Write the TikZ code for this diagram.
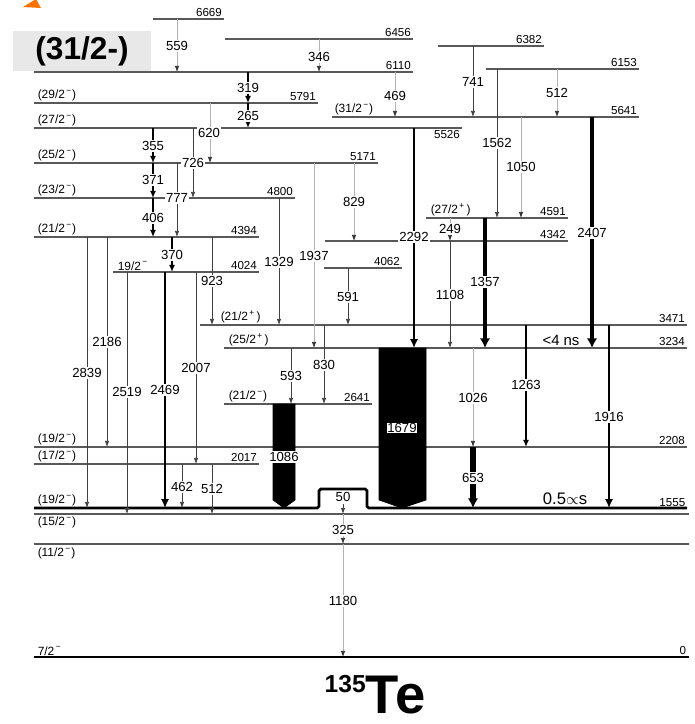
\documentclass[tikz,border=0pt]{standalone}
\usepackage{fontspec}
\setmainfont{Liberation Sans}
\usetikzlibrary{arrows.meta}

\newcommand{\mneg}{\textsuperscript{\,−}}
\newcommand{\mpos}{\textsuperscript{\,+\,}}

\tikzset{
  lvl/.style={draw=black!65, line width=0.8pt},
  gnd/.style={draw=black, line width=1.6pt},
  tr/.style={draw=black!75, line width=0.45pt, -{Latex[length=3.5pt,width=2.6pt]}},
  trl/.style={draw=black!30, line width=0.45pt, -{Latex[length=3.5pt,width=2.6pt,color=black!80]}},
  trm/.style={draw=black, line width=1pt, -{Latex[length=4pt,width=3.4pt]}},
  trt/.style={draw=black, line width=1.6pt, -{Latex[length=5pt,width=4.6pt]}},
  trx/.style={draw=black, line width=2.8pt, -{Latex[length=5.5pt,width=6pt]}},
  fat/.style={fill=black, draw=black, line width=0.4pt},
  gl/.style={fill=white, inner sep=0.6pt, font=\fontsize{7.5}{8}\selectfont},
  el/.style={anchor=south east, inner sep=0.8pt, font=\fontsize{6.6}{7}\selectfont},
  sl/.style={anchor=south west, inner sep=0.8pt, font=\fontsize{6.8}{7}\selectfont}
}

\begin{document}
\begin{tikzpicture}[x=0.02cm, y=-0.02cm]
\useasboundingbox (0,0) rectangle (695,724);

% corner mark and boxed spin
\fill[orange!90!red] (23,7) -- (41,8) -- (36,-1) -- cycle;
\node[fill=black!9, minimum width=2.76cm, minimum height=0.8cm, inner sep=0pt,
      font=\bfseries\fontsize{18}{20}\selectfont] (jbox) at (82,51) {(31/2-)};

% levels
\draw[lvl] (153,19) -- (224,19) node[el] (e6669) {6669};
\draw[lvl] (225,39) -- (413,39) node[el] (e6456) {6456};
\draw[lvl] (151,72) -- (413,72) node[el] (e6110) {6110};
\draw[lvl] (34,72) -- (151,72);
\draw[lvl] (438,46) -- (544,46) node[el] (e6382) {6382};
\draw[lvl] (486,69) -- (639,69) node[el] (e6153) {6153};
\draw[lvl] (34,103) -- (318,103) node[el] (e5791) {5791};
\draw[lvl] (332,117) -- (639,117) node[el] (e5641) {5641};
\draw[lvl] (34,128) -- (462,128) node[el, anchor=north east] (e5526) {5526};
\draw[lvl] (34,163) -- (378,163) node[el] (e5171) {5171};
\draw[lvl] (34,198) -- (295,198) node[el] (e4800) {4800};
\draw[lvl] (426,218) -- (568,218) node[el] (e4591) {4591};
\draw[lvl] (34,237) -- (259,237) node[el] (e4394) {4394};
\draw[lvl] (325,241) -- (568,241) node[el] (e4342) {4342};
\draw[lvl] (324,268) -- (402,268) node[el] (e4062) {4062};
\draw[lvl] (113,272) -- (259,272) node[el] (e4024) {4024};
\draw[lvl] (200,325) -- (687,325) node[el] (e3471) {3471};
\draw[lvl] (224,348) -- (687,348) node[el] (e3234) {3234};
\draw[lvl] (224,404) -- (372,404) node[el] (e2641) {2641};
\draw[lvl] (34,447) -- (687,447) node[el] (e2208) {2208};
\draw[lvl] (34,464) -- (259,464) node[el] (e2017) {2017};
\draw[lvl] (34,514) -- (689,514);
\draw[lvl] (34,544) -- (689,544);
\draw[gnd, rounded corners=1pt] (34,508) -- (319,508) -- (319,489) -- (367,489) -- (367,508) -- (687,508);
\node[el] (e1555) at (687,508) {1555};
\draw[gnd] (34,657) -- (689,657) node[el] (e0) {0};

% spins
\node[sl] (s5791) at (36,103) {(29/2\mneg)};
\node[sl] (s5526) at (36,128) {(27/2\mneg)};
\node[sl] (s5641) at (333,117) {(31/2\mneg)};
\node[sl] (s5171) at (36,163) {(25/2\mneg)};
\node[sl] (s4800) at (36,198) {(23/2\mneg)};
\node[sl] (s4591) at (429,218) {(27/2\mpos)};
\node[sl] (s4394) at (36,237) {(21/2\mneg)};
\node[sl] (s4024) at (116,272) {19/2\mneg};
\node[sl] (s3471) at (219,325) {(21/2\mpos)};
\node[sl] (s3234) at (227,348) {(25/2\mpos)};
\node[sl] (s2641) at (227,404) {(21/2\mneg)};
\node[sl] (s2208) at (36,447) {(19/2\mneg)};
\node[sl] (s2017) at (36,464) {(17/2\mneg)};
\node[sl] (s1555) at (36,508) {(19/2\mneg)};
\node[sl, anchor=north west] (s1505) at (36,515) {(15/2\mneg)};
\node[sl, anchor=north west] (s1180) at (36,546) {(11/2\mneg)};
\node[sl] (s0) at (36,657) {7/2\mneg};

% gamma rays
\draw[trl] (177,19) -- (177,72);
\draw[trl] (319,39) -- (319,72);
\draw[trm] (248,72) -- (248,103);
\draw[trm] (248,103) -- (248,128);
\draw[trl] (395,72) -- (395,117);
\draw[tr] (473,46) -- (473,117);
\draw[trl] (557,69) -- (557,117);
\draw[tr] (497,69) -- (497,218);
\draw[trl] (521,117) -- (521,218);
\draw[trx, line width=2.3pt] (592,117) -- (592,348);
\draw[trt, line width=1.3pt] (414,128) -- (414,348);
\draw[trl] (210,103) -- (210,163);
\draw[trm, line width=0.9pt] (153,128) -- (153,163);
\draw[trm, line width=0.9pt] (153,163) -- (153,198);
\draw[trm, line width=0.9pt] (153,198) -- (153,237);
\draw[tr] (193,128) -- (193,198);
\draw[tr] (177,163) -- (177,237);
\draw[trm] (172,237) -- (172,272);
\draw[trl] (354,163) -- (354,241);
\draw[trl] (450,218) -- (450,241);
\draw[tr] (450,241) -- (450,348);
\draw[trx] (485,218) -- (485,348);
\draw[trl] (314,163) -- (314,348);
\draw[tr] (279,198) -- (279,325);
\draw[tr] (212,237) -- (212,325);
\draw[tr] (348,268) -- (348,325);
\draw[tr] (107,237) -- (107,447);
\draw[tr] (87,237) -- (87,508);
\draw[tr] (127,272) -- (127,514);
\draw[trt] (165,272) -- (165,508);
\draw[tr] (196,272) -- (196,464);
\draw[tr] (182,464) -- (182,508);
\draw[tr] (212,464) -- (212,514);
\draw[tr] (291,348) -- (291,404);
\draw[tr] (324,325) -- (324,404);
\draw[trl] (473,348) -- (473,447);
\draw[trx, line width=3.4pt] (473,447) -- (473,508);
\draw[trm] (526,325) -- (526,447);
\draw[trt] (609,325) -- (609,508);
\draw[tr] (343,504) -- (343,514);
\draw[trl] (343,514) -- (343,544);
\draw[trl] (343,544) -- (343,657);

% wide arrows
\draw[fat] (273,404) -- (295,404) -- (295,500) -- (284,508) -- (273,500) -- cycle;
\draw[fat] (379,348) -- (426,348) -- (426,500) -- (402,508) -- (379,500) -- cycle;

% energies of the gamma rays
\node[gl] (g559) at (177,46) {559};
\node[gl] (g346) at (319,57) {346};
\node[gl] (g319) at (248,88) {319};
\node[gl] (g265) at (248,116) {265};
\node[gl] (g469) at (395,96) {469};
\node[gl] (g741) at (473,82) {741};
\node[gl] (g512a) at (557,93) {512};
\node[gl] (g1562) at (497,143) {1562};
\node[gl] (g1050) at (521,167) {1050};
\node[gl] (g2407) at (592,233) {2407};
\node[gl] (g2292) at (414,237) {2292};
\node[gl] (g620) at (209,133) {620};
\node[gl] (g355) at (153,146) {355};
\node[gl] (g371) at (153,180) {371};
\node[gl] (g406) at (153,218) {406};
\node[gl] (g726) at (193,163) {726};
\node[gl] (g777) at (177,198) {777};
\node[gl] (g370) at (172,255) {370};
\node[gl] (g829) at (354,202) {829};
\node[gl] (g249) at (450,229) {249};
\node[gl] (g1108) at (450,295) {1108};
\node[gl] (g1357) at (485,282) {1357};
\node[gl] (g1937) at (314,256) {1937};
\node[gl] (g1329) at (279,262) {1329};
\node[gl] (g923) at (212,281) {923};
\node[gl] (g591) at (348,297) {591};
\node[gl] (g2186) at (107,342) {2186};
\node[gl] (g2839) at (87,373) {2839};
\node[gl] (g2519) at (127,392) {2519};
\node[gl] (g2469) at (165,390) {2469};
\node[gl] (g2007) at (196,368) {2007};
\node[gl] (g462) at (182,487) {462};
\node[gl] (g512b) at (212,489) {512};
\node[gl] (g593) at (291,376) {593};
\node[gl] (g830) at (324,365) {830};
\node[gl] (g1086) at (284,457) {1086};
\node[gl, draw=black, line width=0.4pt] (g1679) at (402,428) {1679};
\node[gl] (g1026) at (473,398) {1026};
\node[gl] (g653) at (473,478) {653};
\node[gl] (g1263) at (526,385) {1263};
\node[gl] (g1916) at (609,417) {1916};
\node[gl, fill=none] (g50) at (343,497) {50};
\node[gl] (g325) at (343,530) {325};
\node[gl] (g1180) at (343,601) {1180};

% half-lives and nucleus
\node[font=\fontsize{8.5}{9}\selectfont] (tau1) at (561,340) {<4 ns};
\node[font=\fontsize{9.5}{10}\selectfont] (tau2) at (565,499) {0.5$\propto$s};
\node[anchor=base, inner sep=0pt, font=\bfseries\fontsize{31}{33}\selectfont] (nuc) at (375,713)
  {\raisebox{11.5pt}{\fontsize{14}{14}\selectfont 135}Te};
\end{tikzpicture}
\end{document}
